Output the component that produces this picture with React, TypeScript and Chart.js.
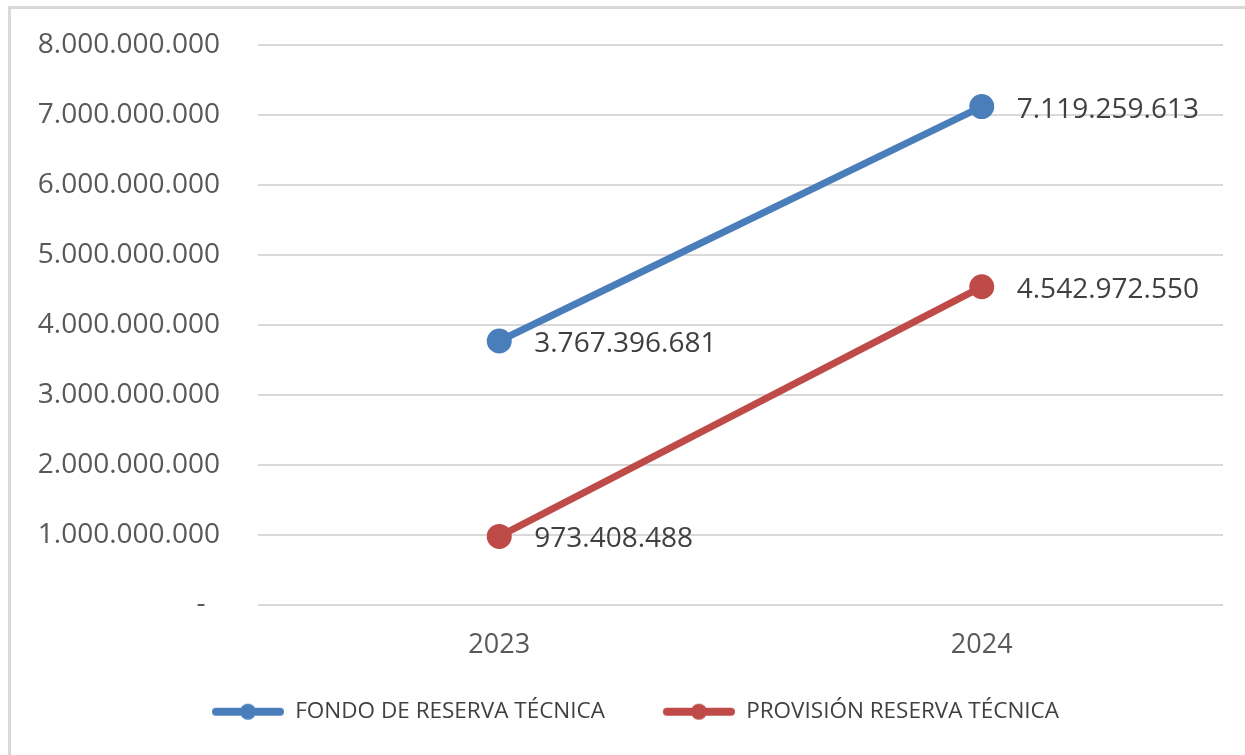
import React, { useEffect, useRef } from "react";
import { Chart, registerables } from "chart.js";

Chart.register(...registerables);

const categories = ["2023", "2024"];
const fondoValues = [3767396681, 7119259613];
const provisionValues = [973408488, 4542972550];
const seriesNames = ["FONDO DE RESERVA TÉCNICA", "PROVISIÓN RESERVA TÉCNICA"];
const seriesColors = ["#4a7ebb", "#be4b48"];

const FONT = "'Open Sans', 'Noto Sans', sans-serif";

function fmt(v: number): string {
  if (v === 0) return "-  ";
  return Math.round(v)
    .toString()
    .replace(/\B(?=(\d{3})+(?!\d))/g, ".");
}

function makeMarker(color: string): HTMLCanvasElement {
  const c = document.createElement("canvas");
  const blank = 48;
  const w = blank + 72;
  c.width = w;
  c.height = 22;
  const ctx = c.getContext("2d")!;
  ctx.strokeStyle = color;
  ctx.lineWidth = 8;
  ctx.lineCap = "round";
  ctx.beginPath();
  ctx.moveTo(blank + 4, 11);
  ctx.lineTo(w - 4, 11);
  ctx.stroke();
  ctx.fillStyle = color;
  ctx.beginPath();
  ctx.arc(blank + 36, 11, 8, 0, Math.PI * 2);
  ctx.fill();
  return c;
}

const dataLabelPlugin = {
  id: "dataLabels",
  afterDatasetsDraw(chart: any) {
    const ctx = chart.ctx;
    ctx.save();
    ctx.font = `28px ${FONT}`;
    ctx.fillStyle = "#404040";
    ctx.textAlign = "left";
    ctx.textBaseline = "middle";
    chart.data.datasets.forEach((ds: any, i: number) => {
      const meta = chart.getDatasetMeta(i);
      meta.data.forEach((pt: any, j: number) => {
        ctx.fillText(fmt(ds.data[j]), pt.x + 35, pt.y + 3);
      });
    });
    ctx.restore();
  },
};

export default function App() {
  const ref = useRef<HTMLCanvasElement | null>(null);

  useEffect(() => {
    if (!ref.current) return;
    const markers = seriesColors.map(makeMarker);
    const chart = new Chart(ref.current, {
      type: "line",
      data: {
        labels: categories,
        datasets: [
          {
            label: seriesNames[0],
            data: fondoValues,
            borderColor: seriesColors[0],
            backgroundColor: seriesColors[0],
            borderWidth: 7,
            pointRadius: 9,
            pointHoverRadius: 9,
            pointBackgroundColor: seriesColors[0],
            pointBorderColor: seriesColors[0],
            tension: 0,
          },
          {
            label: seriesNames[1],
            data: provisionValues,
            borderColor: seriesColors[1],
            backgroundColor: seriesColors[1],
            borderWidth: 7,
            pointRadius: 9,
            pointHoverRadius: 9,
            pointBackgroundColor: seriesColors[1],
            pointBorderColor: seriesColors[1],
            tension: 0,
          },
        ],
      },
      options: {
        responsive: false,
        animation: false,
        layout: { padding: { top: 45, left: 0, right: 22, bottom: 22 } },
        plugins: {
          tooltip: { enabled: false },
          legend: {
            position: "bottom",
            labels: {
              usePointStyle: true,
              pointStyleWidth: 120,
              boxHeight: 20,
              padding: 10,
              color: "#404040",
              font: { family: FONT, size: 22.5 },
              generateLabels: (ch: any) =>
                ch.data.datasets.map((ds: any, i: number) => ({
                  text: ds.label,
                  fillStyle: seriesColors[i],
                  strokeStyle: seriesColors[i],
                  pointStyle: markers[i],
                  fontColor: "#404040",
                  hidden: false,
                  lineWidth: 0,
                  datasetIndex: i,
                })),
            },
          },
        },
        scales: {
          x: {
            offset: true,
            grid: { display: false },
            border: { display: false },
            ticks: {
              color: "#595959",
              padding: 17,
              font: { family: FONT, size: 27 },
            },
            afterFit: (s: any) => {
              s.height = 86;
            },
          },
          y: {
            min: 0,
            max: 8000000000,
            grid: { color: "#d9d9d9", lineWidth: 2, drawTicks: false },
            border: { display: false },
            ticks: {
              stepSize: 1000000000,
              color: "#595959",
              padding: 38,
              font: { family: FONT, size: 28 },
              callback: (v: any) => fmt(Number(v)),
            },
            afterFit: (s: any) => {
              s.width = 258;
              s.paddingTop = 0;
              s.paddingBottom = 0;
            },
          },
        },
      },
      plugins: [dataLabelPlugin],
    } as any);
    return () => chart.destroy();
  }, []);

  return (
    <div>
      <div
        style={{
          position: "fixed",
          left: 8,
          top: 6,
          width: 1400,
          height: 900,
          border: "3px solid #d9d9d9",
          background: "#fff",
        }}
      />
      <canvas
        ref={ref}
        width={1245}
        height={755}
        style={{ position: "fixed", left: 0, top: 0, width: 1245, height: 755 }}
      />
    </div>
  );
}
